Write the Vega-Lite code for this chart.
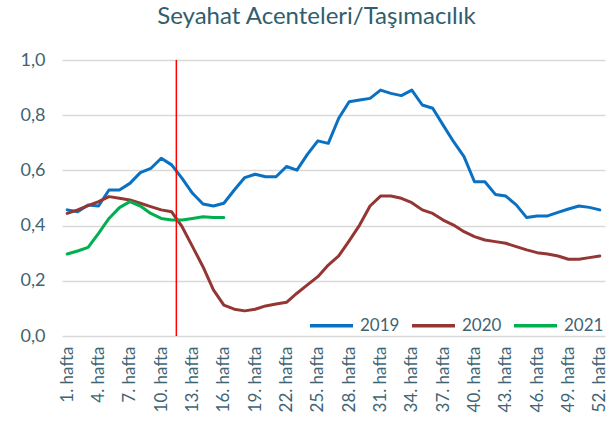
{
  "$schema": "https://vega.github.io/schema/vega-lite/v6.json",
  "width": 543,
  "height": 276,
  "autosize": "none",
  "padding": {"left": 62, "top": 60, "right": 3, "bottom": 96},
  "background": "white",
  "config": {
    "font": "Lato",
    "view": {"stroke": null},
    "axis": {"labelColor": "#3F6474", "labelFont": "Lato", "domain": false, "ticks": false, "labelOverlap": false}
  },
  "title": {
    "text": "Seyahat Acenteleri/Taşımacılık",
    "fontSize": 24,
    "fontWeight": "normal",
    "color": "#2F5E6E",
    "anchor": "middle",
    "dx": -17,
    "offset": 22
  },
  "datasets": {
    "series": [
      {"hafta": 1, "yil": "2019", "deger": 0.457}, {"hafta": 2, "yil": "2019", "deger": 0.45}, {"hafta": 3, "yil": "2019", "deger": 0.475}, {"hafta": 4, "yil": "2019", "deger": 0.471}, {"hafta": 5, "yil": "2019", "deger": 0.529}, {"hafta": 6, "yil": "2019", "deger": 0.529}, {"hafta": 7, "yil": "2019", "deger": 0.553}, {"hafta": 8, "yil": "2019", "deger": 0.592}, {"hafta": 9, "yil": "2019", "deger": 0.607}, {"hafta": 10, "yil": "2019", "deger": 0.644}, {"hafta": 11, "yil": "2019", "deger": 0.62}, {"hafta": 12, "yil": "2019", "deger": 0.571}, {"hafta": 13, "yil": "2019", "deger": 0.517}, {"hafta": 14, "yil": "2019", "deger": 0.478}, {"hafta": 15, "yil": "2019", "deger": 0.471}, {"hafta": 16, "yil": "2019", "deger": 0.481}, {"hafta": 17, "yil": "2019", "deger": 0.529}, {"hafta": 18, "yil": "2019", "deger": 0.574}, {"hafta": 19, "yil": "2019", "deger": 0.586}, {"hafta": 20, "yil": "2019", "deger": 0.577}, {"hafta": 21, "yil": "2019", "deger": 0.577}, {"hafta": 22, "yil": "2019", "deger": 0.614}, {"hafta": 23, "yil": "2019", "deger": 0.601}, {"hafta": 24, "yil": "2019", "deger": 0.658}, {"hafta": 25, "yil": "2019", "deger": 0.707}, {"hafta": 26, "yil": "2019", "deger": 0.698}, {"hafta": 27, "yil": "2019", "deger": 0.789}, {"hafta": 28, "yil": "2019", "deger": 0.849}, {"hafta": 29, "yil": "2019", "deger": 0.855}, {"hafta": 30, "yil": "2019", "deger": 0.861}, {"hafta": 31, "yil": "2019", "deger": 0.891}, {"hafta": 32, "yil": "2019", "deger": 0.879}, {"hafta": 33, "yil": "2019", "deger": 0.871}, {"hafta": 34, "yil": "2019", "deger": 0.891}, {"hafta": 35, "yil": "2019", "deger": 0.837}, {"hafta": 36, "yil": "2019", "deger": 0.825}, {"hafta": 37, "yil": "2019", "deger": 0.764}, {"hafta": 38, "yil": "2019", "deger": 0.704}, {"hafta": 39, "yil": "2019", "deger": 0.65}, {"hafta": 40, "yil": "2019", "deger": 0.559}, {"hafta": 41, "yil": "2019", "deger": 0.559}, {"hafta": 42, "yil": "2019", "deger": 0.513}, {"hafta": 43, "yil": "2019", "deger": 0.507}, {"hafta": 44, "yil": "2019", "deger": 0.475}, {"hafta": 45, "yil": "2019", "deger": 0.429}, {"hafta": 46, "yil": "2019", "deger": 0.435}, {"hafta": 47, "yil": "2019", "deger": 0.435}, {"hafta": 48, "yil": "2019", "deger": 0.448}, {"hafta": 49, "yil": "2019", "deger": 0.46}, {"hafta": 50, "yil": "2019", "deger": 0.471}, {"hafta": 51, "yil": "2019", "deger": 0.466}, {"hafta": 52, "yil": "2019", "deger": 0.457},
      {"hafta": 1, "yil": "2020", "deger": 0.444}, {"hafta": 2, "yil": "2020", "deger": 0.457}, {"hafta": 3, "yil": "2020", "deger": 0.472}, {"hafta": 4, "yil": "2020", "deger": 0.487}, {"hafta": 5, "yil": "2020", "deger": 0.505}, {"hafta": 6, "yil": "2020", "deger": 0.499}, {"hafta": 7, "yil": "2020", "deger": 0.493}, {"hafta": 8, "yil": "2020", "deger": 0.481}, {"hafta": 9, "yil": "2020", "deger": 0.469}, {"hafta": 10, "yil": "2020", "deger": 0.457}, {"hafta": 11, "yil": "2020", "deger": 0.45}, {"hafta": 12, "yil": "2020", "deger": 0.396}, {"hafta": 13, "yil": "2020", "deger": 0.324}, {"hafta": 14, "yil": "2020", "deger": 0.251}, {"hafta": 15, "yil": "2020", "deger": 0.167}, {"hafta": 16, "yil": "2020", "deger": 0.112}, {"hafta": 17, "yil": "2020", "deger": 0.097}, {"hafta": 18, "yil": "2020", "deger": 0.091}, {"hafta": 19, "yil": "2020", "deger": 0.097}, {"hafta": 20, "yil": "2020", "deger": 0.109}, {"hafta": 21, "yil": "2020", "deger": 0.116}, {"hafta": 22, "yil": "2020", "deger": 0.122}, {"hafta": 23, "yil": "2020", "deger": 0.155}, {"hafta": 24, "yil": "2020", "deger": 0.185}, {"hafta": 25, "yil": "2020", "deger": 0.215}, {"hafta": 26, "yil": "2020", "deger": 0.257}, {"hafta": 27, "yil": "2020", "deger": 0.29}, {"hafta": 28, "yil": "2020", "deger": 0.345}, {"hafta": 29, "yil": "2020", "deger": 0.402}, {"hafta": 30, "yil": "2020", "deger": 0.471}, {"hafta": 31, "yil": "2020", "deger": 0.507}, {"hafta": 32, "yil": "2020", "deger": 0.507}, {"hafta": 33, "yil": "2020", "deger": 0.499}, {"hafta": 34, "yil": "2020", "deger": 0.483}, {"hafta": 35, "yil": "2020", "deger": 0.457}, {"hafta": 36, "yil": "2020", "deger": 0.444}, {"hafta": 37, "yil": "2020", "deger": 0.42}, {"hafta": 38, "yil": "2020", "deger": 0.402}, {"hafta": 39, "yil": "2020", "deger": 0.378}, {"hafta": 40, "yil": "2020", "deger": 0.36}, {"hafta": 41, "yil": "2020", "deger": 0.348}, {"hafta": 42, "yil": "2020", "deger": 0.342}, {"hafta": 43, "yil": "2020", "deger": 0.336}, {"hafta": 44, "yil": "2020", "deger": 0.324}, {"hafta": 45, "yil": "2020", "deger": 0.312}, {"hafta": 46, "yil": "2020", "deger": 0.302}, {"hafta": 47, "yil": "2020", "deger": 0.297}, {"hafta": 48, "yil": "2020", "deger": 0.29}, {"hafta": 49, "yil": "2020", "deger": 0.278}, {"hafta": 50, "yil": "2020", "deger": 0.278}, {"hafta": 51, "yil": "2020", "deger": 0.284}, {"hafta": 52, "yil": "2020", "deger": 0.29},
      {"hafta": 1, "yil": "2021", "deger": 0.297}, {"hafta": 2, "yil": "2021", "deger": 0.308}, {"hafta": 3, "yil": "2021", "deger": 0.321}, {"hafta": 4, "yil": "2021", "deger": 0.372}, {"hafta": 5, "yil": "2021", "deger": 0.426}, {"hafta": 6, "yil": "2021", "deger": 0.465}, {"hafta": 7, "yil": "2021", "deger": 0.487}, {"hafta": 8, "yil": "2021", "deger": 0.471}, {"hafta": 9, "yil": "2021", "deger": 0.444}, {"hafta": 10, "yil": "2021", "deger": 0.426}, {"hafta": 11, "yil": "2021", "deger": 0.42}, {"hafta": 12, "yil": "2021", "deger": 0.42}, {"hafta": 13, "yil": "2021", "deger": 0.426}, {"hafta": 14, "yil": "2021", "deger": 0.432}, {"hafta": 15, "yil": "2021", "deger": 0.429}, {"hafta": 16, "yil": "2021", "deger": 0.429}
    ],
    "marker": [{"hafta": 11.45}]
  },
  "layer": [
    {
      "data": {"name": "series"},
      "mark": {"type": "line", "strokeWidth": 3, "strokeJoin": "round", "strokeCap": "round"},
      "encoding": {
        "x": {
          "field": "hafta", "type": "quantitative",
          "scale": {"domain": [0.5, 52.5], "nice": false, "zero": false},
          "axis": {
            "title": null, "grid": false, "tickCount": 60,
            "values": [1, 4, 7, 10, 13, 16, 19, 22, 25, 28, 31, 34, 37, 40, 43, 46, 49, 52],
            "labelExpr": "datum.value + '. hafta'",
            "labelAngle": -90, "labelFontSize": 17, "labelPadding": 10, "labelFlush": false, "labelOverlap": false, "labelBound": false
          }
        },
        "y": {
          "field": "deger", "type": "quantitative",
          "scale": {"domain": [0, 1], "nice": false},
          "axis": {
            "title": null, "values": [0, 0.2, 0.4, 0.6, 0.8, 1.0],
            "labelExpr": "replace(format(datum.value, '.1f'), '.', ',')",
            "labelFontSize": 18, "labelPadding": 17,
            "grid": true, "gridColor": "#D9D9D9", "gridWidth": 1.5
          }
        },
        "color": {
          "field": "yil", "type": "nominal",
          "scale": {"domain": ["2019", "2020", "2021"], "range": ["#0A70C2", "#943634", "#00B050"]},
          "legend": {
            "title": null, "orient": "none", "direction": "horizontal",
            "legendX": 246, "legendY": 242,
            "symbolType": "stroke", "symbolSize": 1850, "symbolStrokeWidth": 3.5,
            "labelFontSize": 17, "labelColor": "#3F6474", "labelFont": "Lato",
            "labelOffset": 5, "columnPadding": 4, "padding": 0
          }
        }
      }
    },
    {
      "data": {"name": "marker"},
      "mark": {"type": "rule", "color": "#FF0000", "strokeWidth": 1.5},
      "encoding": {"x": {"field": "hafta", "type": "quantitative"}}
    }
  ]
}
